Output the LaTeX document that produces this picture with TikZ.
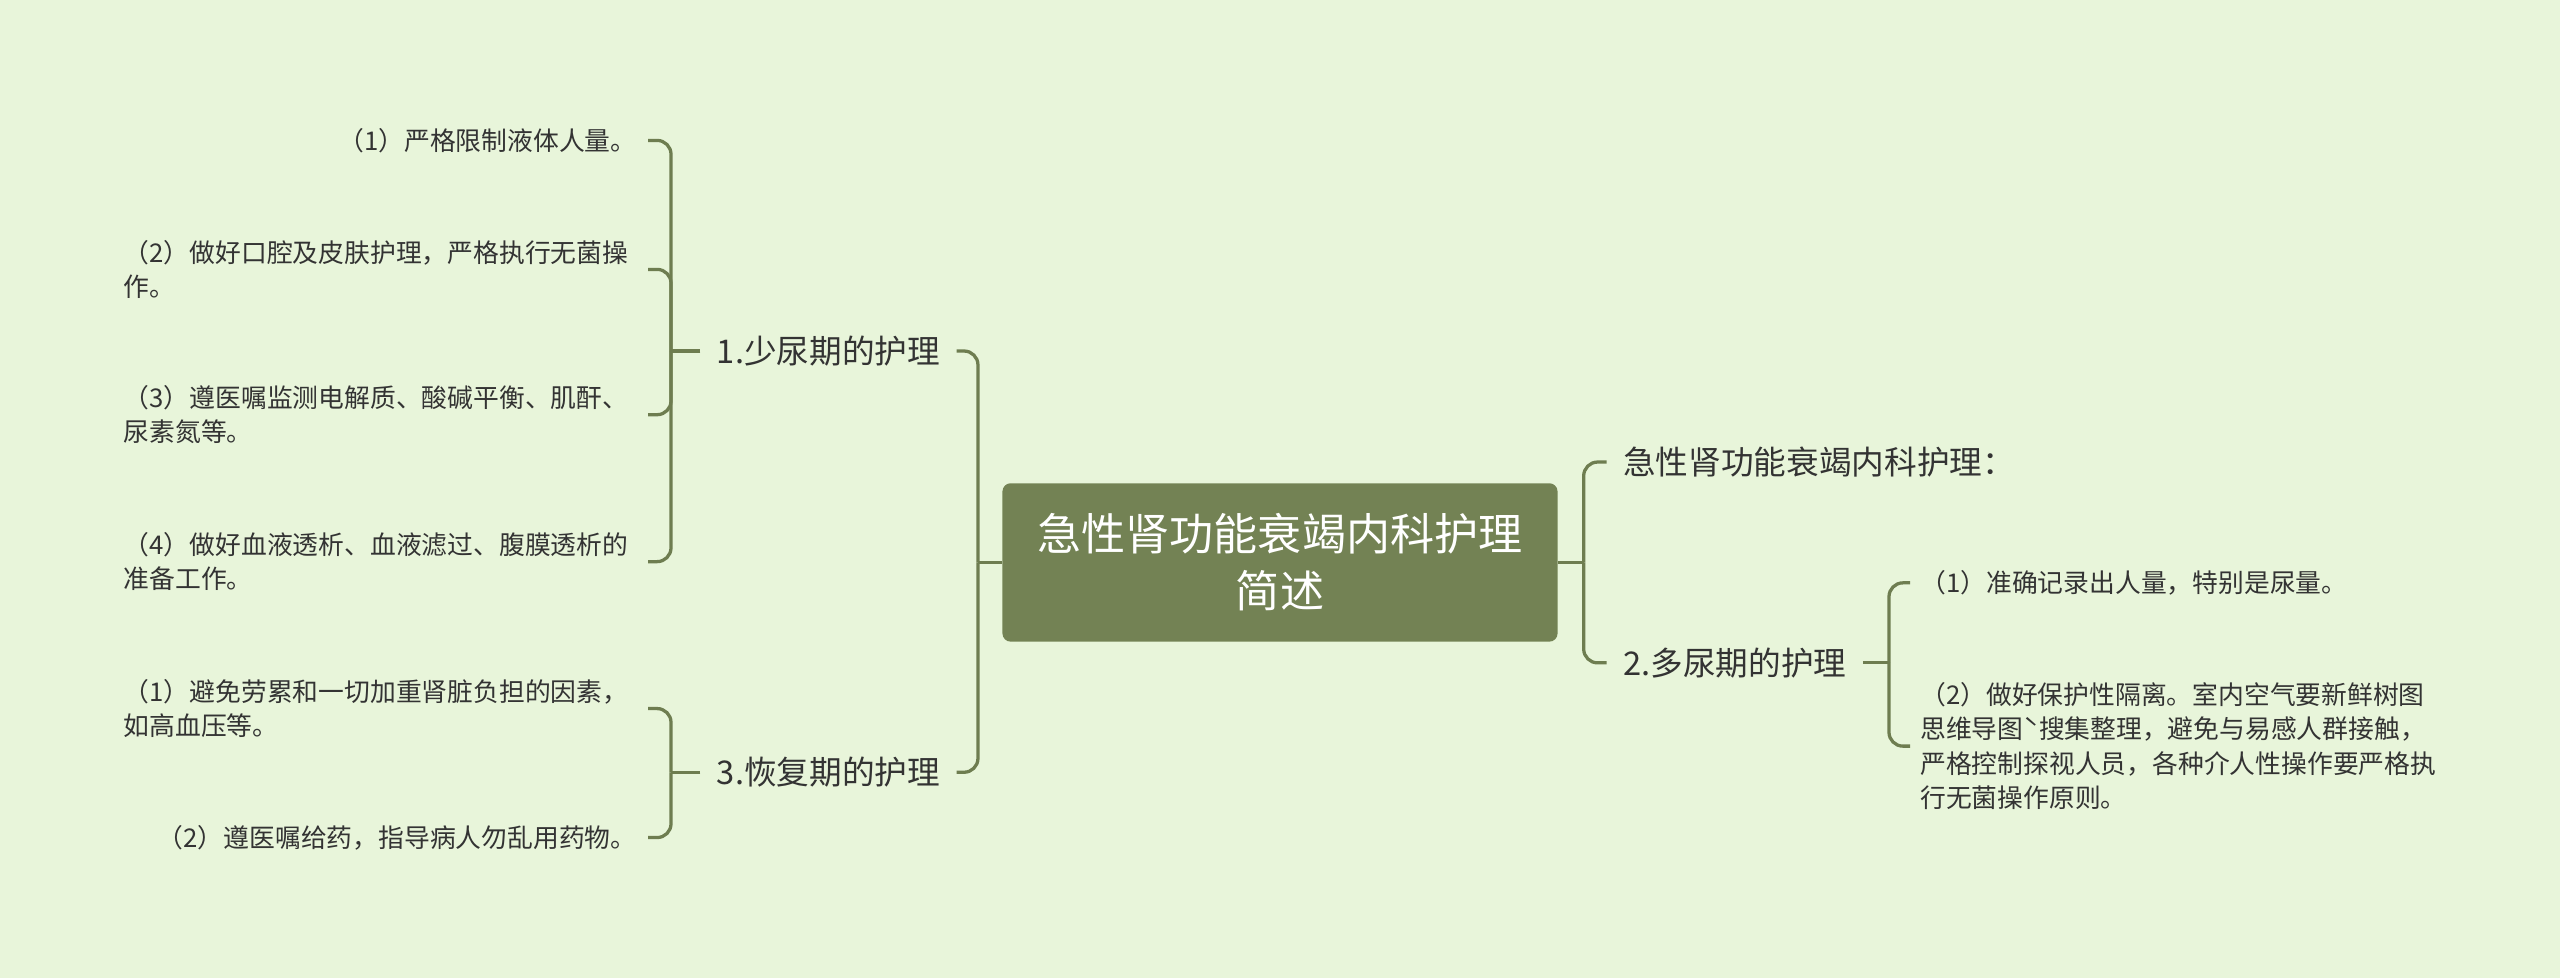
\documentclass[tikz,border=0pt]{standalone}
\usepackage{fontspec}
\newfontfamily\cjk{Noto Sans CJK SC}
\definecolor{bg}{HTML}{E8F5DA}
\definecolor{olive}{HTML}{738254}
\definecolor{lin}{HTML}{6E7D50}
\definecolor{txt}{HTML}{333333}
\begin{document}
\begin{tikzpicture}[x=1pt,y=-1pt,
  conn/.style={draw=lin,line width=2pt,rounded corners=8.5pt},
  root/.style={fill=olive,rounded corners=5pt,text=white,font=\cjk\fontsize{27}{35}\selectfont,align=center,minimum width=340pt,minimum height=97pt,inner sep=0pt},
  lvone/.style={font=\cjk\fontsize{20}{26}\selectfont,text=txt,inner xsep=10pt,inner ysep=2pt},
  leaffont/.style={font=\cjk\fontsize{15.8}{21}\selectfont,text=txt,inner ysep=2pt},
  leafL/.style={leaffont,align=left,anchor=east,inner xsep=7pt},
  leafLw/.style={leaffont,align=left,anchor=east,inner xsep=7pt,text width=314pt},
  leafR/.style={leaffont,align=left,anchor=west,inner xsep=6pt}]
\fill[bg] (0,0) rectangle (1568,599);
\useasboundingbox (0,0) rectangle (1568,599);

\node[root] (root) at (784,344.5) {急性肾功能衰竭内科护理\\简述};

\node[lvone,anchor=east] (s1) at (586,215) {1.少尿期的护理};
\node[lvone,anchor=east] (s3) at (586,473) {3.恢复期的护理};
\node[lvone,anchor=west] (r1) at (984,283) {急性肾功能衰竭内科护理：};
\node[lvone,anchor=west] (r2) at (984,406) {2.多尿期的护理};

\node[leafL] (a1) at (397,86) {（1）严格限制液体人量。};
\node[leafLw] (a2) at (397,165) {（2）做好口腔及皮肤护理，严格执行无菌操\\作。};
\node[leafLw] (a3) at (397,254) {（3）遵医嘱监测电解质、酸碱平衡、肌酐、\\尿素氮等。};
\node[leafLw] (a4) at (397,344) {（4）做好血液透析、血液滤过、腹膜透析的\\准备工作。};
\node[leafLw] (c1) at (397,434) {（1）避免劳累和一切加重肾脏负担的因素，\\如高血压等。};
\node[leafL] (c2) at (397,513) {（2）遵医嘱给药，指导病人勿乱用药物。};

\node[leafR] (b1) at (1170,357) {（1）准确记录出人量，特别是尿量。};
\node[leafR] (b2) at (1170,457) {（2）做好保护性隔离。室内空气要新鲜树图\\思维导图ˋ搜集整理，避免与易感人群接触，\\严格控制探视人员，各种介人性操作要严格执\\行无菌操作原则。};

\coordinate (j0) at (599,344.5);
\coordinate (jr) at (970,344.5);
\coordinate (j1) at (411,215);
\coordinate (j3) at (411,473);
\coordinate (j2) at (1157,406);

\draw[conn] (root.west) -- (j0);
\draw[conn] (j0) |- (s1.east);
\draw[conn] (j0) |- (s3.east);
\draw[conn] (root.east) -- (jr);
\draw[conn] (jr) |- (r1.west);
\draw[conn] (jr) |- (r2.west);

\draw[conn] (s1.west) -- (j1);
\draw[conn] (j1) |- (a1.east);
\draw[conn] (j1) |- (a2.east);
\draw[conn] (j1) |- (a3.east);
\draw[conn] (j1) |- (a4.east);

\draw[conn] (s3.west) -- (j3);
\draw[conn] (j3) |- (c1.east);
\draw[conn] (j3) |- (c2.east);

\draw[conn] (r2.east) -- (j2);
\draw[conn] (j2) |- (b1.west);
\draw[conn] (j2) |- (b2.west);
\end{tikzpicture}
\end{document}
